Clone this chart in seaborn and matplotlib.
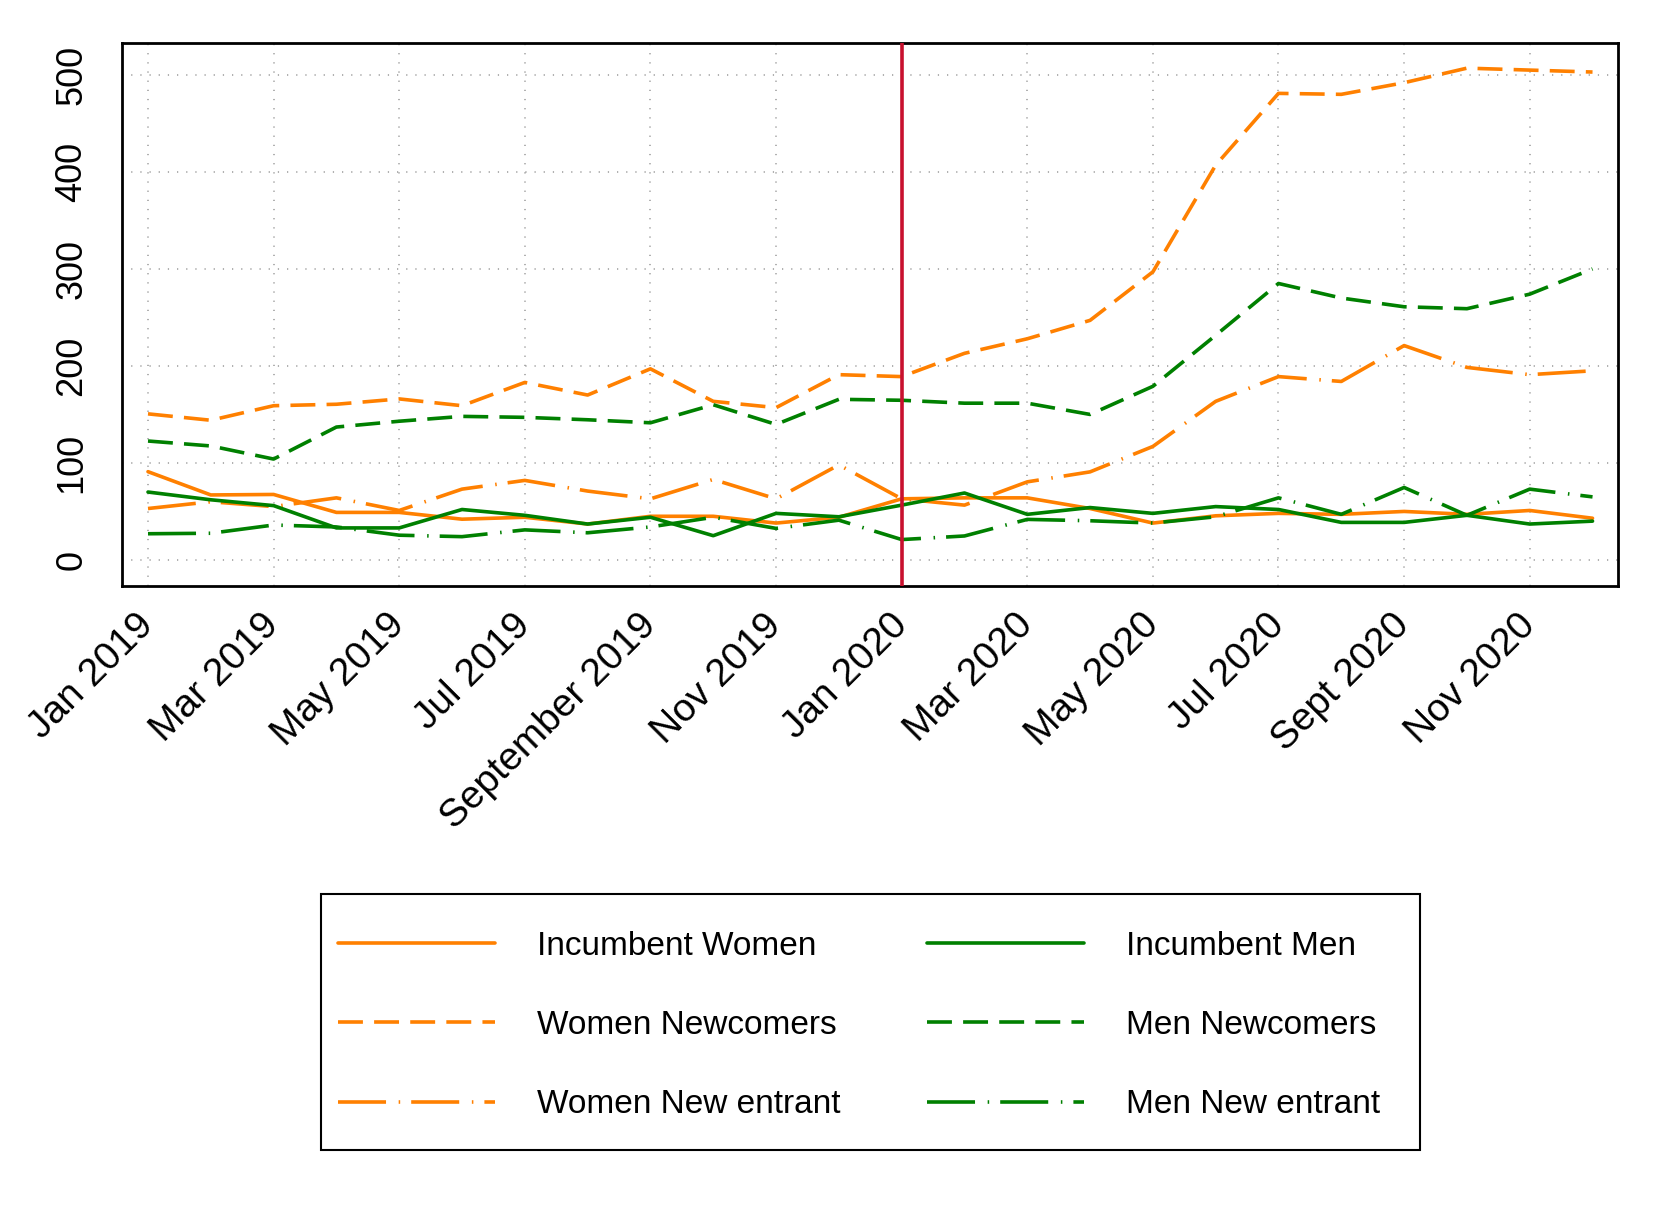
import numpy as np
import pandas as pd
import matplotlib
matplotlib.use("Agg")
import matplotlib.pyplot as plt
from matplotlib.lines import Line2D
from matplotlib.patches import Rectangle
import seaborn as sns

# ---------------- data ----------------
months = list(range(24))  # Jan 2019 .. Dec 2020
tick_pos = list(range(0, 24, 2))
tick_labels = ["Jan 2019", "Mar 2019", "May 2019", "Jul 2019", "September 2019",
               "Nov 2019", "Jan 2020", "Mar 2020", "May 2020", "Jul 2020",
               "Sept 2020", "Nov 2020"]

incumbent_women = [91, 67, 67.5, 49, 49, 42, 44, 37, 45, 45, 38, 44,
                   63, 64, 64, 53, 38, 45.5, 48, 47, 50, 47, 51, 43]
women_newcomers = [150.6, 144, 159, 160.5, 166, 159, 183, 170, 197, 163.5, 157, 191,
                   189, 213, 228, 247, 297, 407, 481, 480, 492, 507, 505, 503]
women_new_entrant = [53, 60, 55, 64, 51, 73, 82, 71, 63, 83, 63, 98,
                     63, 56.5, 80.5, 90.8, 117, 163.5, 189, 184, 221, 198.5, 191, 195]
incumbent_men = [70, 62, 56, 33, 33, 52, 46, 37, 44, 25, 48, 44.5,
                 56.5, 69, 47, 54, 48, 55, 52, 38.7, 38.7, 46, 37, 40]
men_newcomers = [122.6, 117.5, 104, 137, 143, 148, 147, 144.5, 141.4, 160, 139.7, 165.6,
                 164.6, 161.6, 161.6, 150, 179, 231.6, 285, 270, 261, 259, 274, 300]
men_new_entrant = [27, 27.5, 36, 34, 25.5, 24, 31, 28, 34, 44, 32.5, 41,
                   21, 24.7, 41.8, 40.4, 38, 44.5, 64, 47, 74.7, 46, 73, 65]

series_names = ["Incumbent Women", "Women Newcomers", "Women New entrant",
                "Incumbent Men", "Men Newcomers", "Men New entrant"]
series_values = [incumbent_women, women_newcomers, women_new_entrant,
                 incumbent_men, men_newcomers, men_new_entrant]

event_month = 12  # Jan 2020

# ---------------- styles ----------------
ORANGE = "#FF8000"
GREEN = "#008000"
RED = "#C8102E"
solid = ""
dashed = (6.9, 3.1)
dashdot = (13.3, 3.5, 0.42, 3.05)
palette = {
    "Incumbent Women": ORANGE, "Women Newcomers": ORANGE, "Women New entrant": ORANGE,
    "Incumbent Men": GREEN, "Men Newcomers": GREEN, "Men New entrant": GREEN,
}
dash_map = {
    "Incumbent Women": solid, "Women Newcomers": dashed, "Women New entrant": dashdot,
    "Incumbent Men": solid, "Men Newcomers": dashed, "Men New entrant": dashdot,
}

df = pd.concat([pd.DataFrame({"month": months, "value": v, "series": n})
                for n, v in zip(series_names, series_values)], ignore_index=True)

sns.set_style("white")
plt.rcParams["font.family"] = ["Liberation Sans", "DejaVu Sans"]
plt.rcParams["text.color"] = "black"
plt.rcParams["axes.labelcolor"] = "black"
plt.rcParams["xtick.color"] = "black"
plt.rcParams["ytick.color"] = "black"

FS = 24
FS_X = 28
FS_Y = 26
LW = 2.6

fig = plt.figure(figsize=(16.61, 12.08), dpi=100)
ax = fig.add_axes([0.0736, 0.5152, 0.9739 - 0.0736, 0.9647 - 0.5152])

sns.lineplot(data=df, x="month", y="value", hue="series", style="series",
             palette=palette, dashes=dash_map, hue_order=series_names,
             style_order=series_names, linewidth=LW, legend=False, ax=ax)

ax.axvline(event_month, color=RED, lw=2.6, zorder=5)

ax.set_xlim(-0.41, 23.40)
ax.set_ylim(-26.5, 533.3)
ax.set_xticks(tick_pos)
ax.set_xticklabels(tick_labels, rotation=45, ha="right", va="center",
                   rotation_mode="anchor", fontsize=FS_X, color="black")
ax.set_yticks([0, 100, 200, 300, 400, 500])
ax.set_yticklabels(["0", "100", "200", "300", "400", "500"], rotation=90,
                   va="center", fontsize=FS_Y, color="black")
ax.set_xlabel("")
ax.set_ylabel("")

ax.tick_params(axis="both", direction="out", length=12.5, width=1.2,
               color="black", labelcolor="black")
ax.tick_params(axis="x", pad=12)
ax.tick_params(axis="y", pad=11)

ax.grid(True, which="major", color="#9a9a9a", lw=1.1, linestyle=(0, (0.8, 5.2)))
for s in ax.spines.values():
    s.set_visible(True)
    s.set_color("black")
    s.set_linewidth(2.0)

# ---------------- legend ----------------
handles = [Line2D([0], [0], color=palette[n], lw=LW,
                  linestyle=("-" if dash_map[n] == "" else (0, dash_map[n])))
           for n in series_names]
leg = fig.legend(handles, series_names, ncol=2, loc="center left",
                 bbox_to_anchor=(338.3 / 1661, 1 - 1025.5 / 1208),
                 frameon=False, fontsize=FS, handlelength=4.71, handletextpad=1.25,
                 columnspacing=2.61, labelspacing=1.45, borderpad=0, borderaxespad=0)
for t in leg.get_texts():
    t.set_color("black")
fig.patches.append(Rectangle((321 / 1661, 1 - 1150 / 1208), 1099 / 1661, 256 / 1208,
                             transform=fig.transFigure, fill=False,
                             edgecolor="black", lw=1.5))

fig.savefig("out.png", dpi=100, facecolor="white")
